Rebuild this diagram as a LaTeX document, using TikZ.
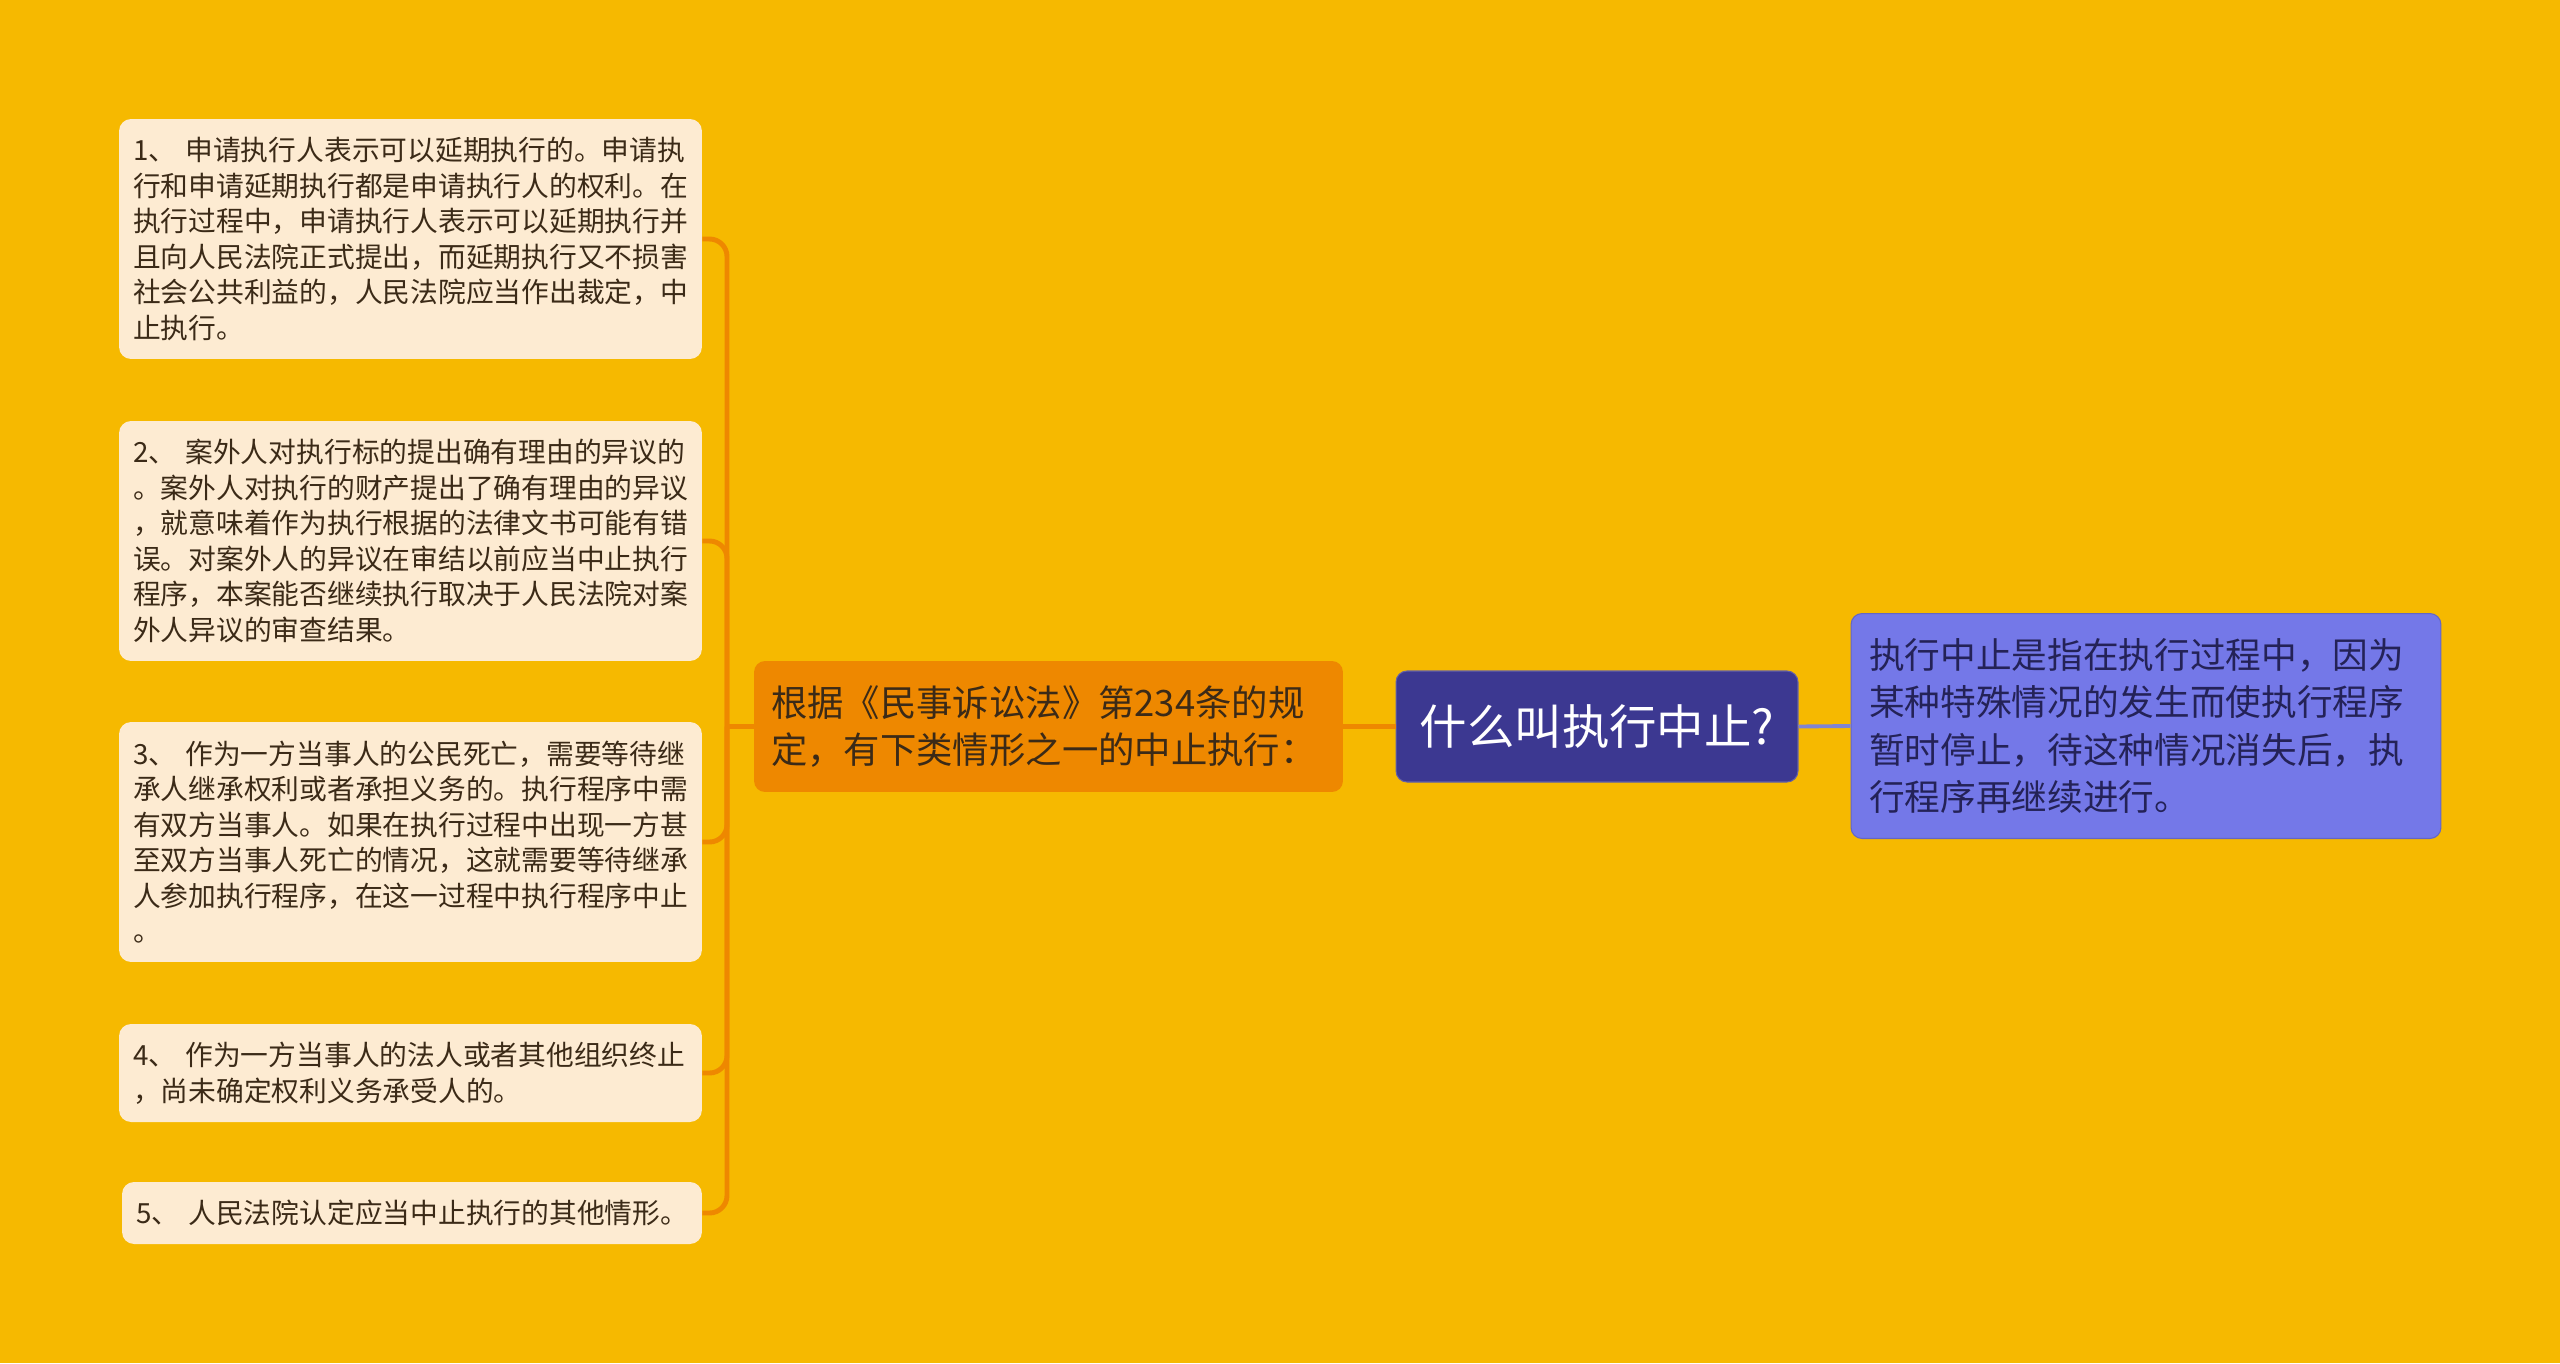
\documentclass[tikz,border=0pt]{standalone}
\usepackage{fontspec}
\usepackage{tikz}
\usepackage{xcolor}
\newfontfamily\cjk{Noto Sans CJK SC}
\definecolor{bgyellow}{HTML}{F6B900}
\definecolor{leafcream}{HTML}{FDEBD2}
\definecolor{midorange}{HTML}{EE8800}
\definecolor{rootnavy}{HTML}{3C3891}
\definecolor{notepurple}{HTML}{7478E8}
\definecolor{inkbrown}{HTML}{3B2A17}
\definecolor{linkblue}{HTML}{8084D2}
\tikzset{leaf/.style={rounded corners=0.24cm, fill=leafcream, text=inkbrown,
   minimum width=11.66cm, text width=11.1cm, inner xsep=0.28cm, inner ysep=0pt,
   align=left, font=\cjk\fontsize{15.8pt}{20.2pt}\selectfont},
 midbox/.style={rounded corners=0.22cm, fill=midorange, text=inkbrown,
   minimum width=11.78cm, minimum height=2.62cm, text width=11.1cm,
   inner xsep=0.34cm, inner ysep=0pt, align=left,
   font=\cjk\fontsize{20.7pt}{26.9pt}\selectfont},
 rootbox/.style={rounded corners=0.22cm, fill=rootnavy, draw=rootnavy!80!white,
   line width=0.6pt, text=white, minimum width=8.04cm, minimum height=2.22cm,
   font=\cjk\fontsize{27pt}{32pt}\selectfont},
 notebox/.style={rounded corners=0.22cm, fill=notepurple, draw=notepurple!85!black,
   line width=0.6pt, text=rootnavy!60!black, minimum width=11.8cm,
   minimum height=4.5cm, text width=11.08cm, inner xsep=0.36cm, inner ysep=0pt,
   align=left, font=\cjk\fontsize{20.3pt}{26.9pt}\selectfont},
 branch/.style={draw=midorange, line width=2.8pt},
 link/.style={draw=linkblue, line width=2.2pt},
 }

\begin{document}
\begin{tikzpicture}[x=0.02cm, y=-0.02cm]
        \fill[bgyellow] (0,0) rectangle (2560,1363);
        % centre and side notes
        \node[rootbox] (root) at (1597,726.5) {什么叫执行中止?};
        \node[notebox] (note) at (2146,726) {执行中止是指在执行过程中，因为\\某种特殊情况的发生而使执行程序\\暂时停止，待这种情况消失后，执\\行程序再继续进行。};
        \node[midbox] (mid) at (1048.5,726.5) {根据《民事诉讼法》第234条的规\\定，有下类情形之一的中止执行：};
        % the five cases
        \node[leaf, minimum height=4.8cm] (l1) at (410.5,239) {1、 申请执行人表示可以延期执行的。申请执\\行和申请延期执行都是申请执行人的权利。在\\执行过程中，申请执行人表示可以延期执行并\\且向人民法院正式提出，而延期执行又不损害\\社会公共利益的，人民法院应当作出裁定，中\\止执行。};
        \node[leaf, minimum height=4.8cm] (l2) at (410.5,541) {2、 案外人对执行标的提出确有理由的异议的\\。案外人对执行的财产提出了确有理由的异议\\，就意味着作为执行根据的法律文书可能有错\\误。对案外人的异议在审结以前应当中止执行\\程序，本案能否继续执行取决于人民法院对案\\外人异议的审查结果。};
        \node[leaf, minimum height=4.8cm] (l3) at (410.5,842) {3、 作为一方当事人的公民死亡，需要等待继\\承人继承权利或者承担义务的。执行程序中需\\有双方当事人。如果在执行过程中出现一方甚\\至双方当事人死亡的情况，这就需要等待继承\\人参加执行程序，在这一过程中执行程序中止\\。};
        \node[leaf, minimum height=1.96cm] (l4) at (410.5,1073) {4、 作为一方当事人的法人或者其他组织终止\\，尚未确定权利义务承受人的。};
        \node[leaf, minimum height=1.24cm, minimum width=11.6cm, text width=11.04cm] (l5) at (412,1213) {5、 人民法院认定应当中止执行的其他情形。};
        % connectors
        \draw[link] (root.east) -- (note.west);
        \draw[branch] (root.west) -- (mid.east);
        \coordinate (fork) at (727,726.5);
        \draw[branch] (mid.west) -- (fork);
        \foreach \n in {l1,l2,l3,l4,l5}
            \draw[branch, rounded corners=0.35cm] (fork) |- (\n.east);
\end{tikzpicture}
\end{document}
